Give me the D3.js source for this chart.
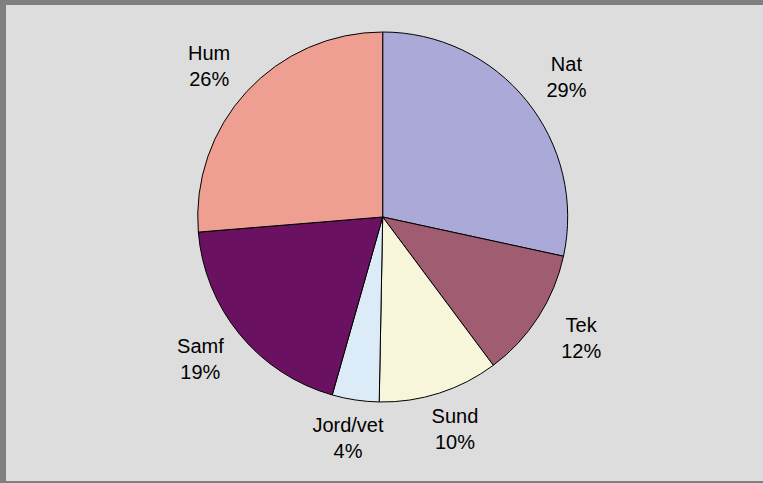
<!DOCTYPE html>
<html><head><meta charset="utf-8">
<script src="https://cdn.jsdelivr.net/npm/d3@7"></script>
<style>html,body{margin:0;padding:0;background:#fff;}svg{display:block;}</style>
</head><body>
<script>
const categories = ["Nat","Tek","Sund","Jord/vet","Samf","Hum"];
const values = [28.4,11.4,10.5,4.1,19.3,26.3];
const percentLabels = ["29%","12%","10%","4%","19%","26%"];
const colors = ["#aaa9d8","#a05c70","#f7f6da","#dbecf8","#6a1162","#ee9f92"];

const W = 763, H = 483;
const svg = d3.select("body").append("svg").attr("width", W).attr("height", H);
svg.append("rect").attr("x",0).attr("y",0).attr("width",W).attr("height",H).attr("fill","#808080");
svg.append("rect").attr("x",6).attr("y",5).attr("width",W-6).attr("height",476).attr("fill","#dddddd");

const cx = 382.7, cy = 217, r = 185;
const lrx = 236, lry = 223;
const data = categories.map((c,i)=>({cat:c, value:values[i], pct:percentLabels[i], color:colors[i]}));
const pie = d3.pie().value(d=>d.value).sort(null);
const arcs = pie(data);
const arc = d3.arc().innerRadius(0).outerRadius(r);
const g = svg.append("g").attr("transform",`translate(${cx},${cy})`);
g.selectAll("path").data(arcs).join("path")
  .attr("d", arc).attr("fill", d=>d.data.color)
  .attr("stroke","#000").attr("stroke-width",1).attr("stroke-linejoin","round");

const lab = g.selectAll("g.lab").data(arcs).join("g").attr("class","lab")
  .attr("transform", d=>{
    const a = (d.startAngle+d.endAngle)/2;
    return `translate(${lrx*Math.sin(a)},${-lry*Math.cos(a)})`;
  });
lab.append("text").attr("text-anchor","middle").attr("y",-6)
  .attr("font-family","Liberation Sans, Arial, sans-serif").attr("font-size",20).attr("fill","#000")
  .text(d=>d.data.cat);
lab.append("text").attr("text-anchor","middle").attr("y",20)
  .attr("font-family","Liberation Sans, Arial, sans-serif").attr("font-size",20).attr("fill","#000")
  .text(d=>d.data.pct);
</script>
</body></html>
